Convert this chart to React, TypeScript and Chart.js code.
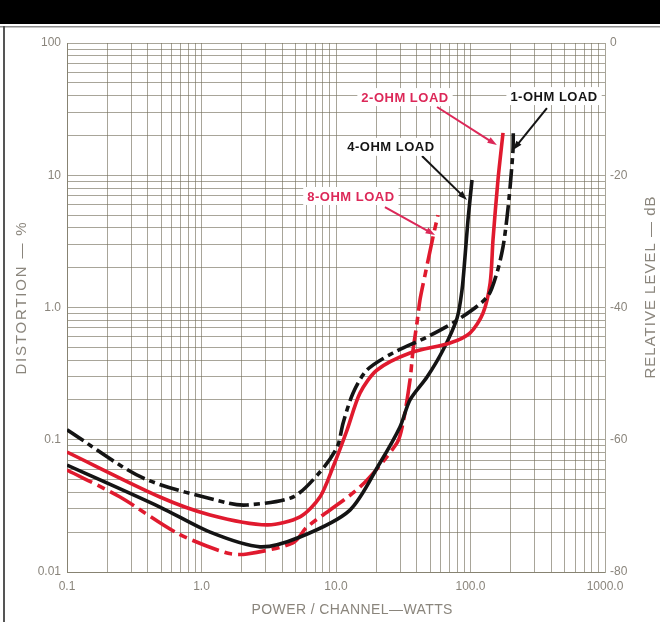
import React, { useEffect, useRef } from "react";
import { Chart, registerables } from "chart.js";

Chart.register(...registerables);

// ---------- axis data ----------
const xDecades = [0.1, 1, 10, 100, 1000];
const xTickLabels = ["0.1", "1.0", "10.0", "100.0", "1000.0"];
const yDecades = [0.01, 0.1, 1, 10, 100];
const yTickLabels = ["0.01", "0.1", "1.0", "10", "100"];
const dbTicks = [-80, -60, -40, -20, 0];
const dbTickLabels = ["-80", "-60", "-40", "-20", "0"];

const xTitle = "POWER / CHANNEL—WATTS";
const yTitle = "DISTORTION — %";
const y2Title = "RELATIVE LEVEL — dB";

// ---------- series data (power W, distortion %) ----------
const oneOhmPower = [0.1, 0.367, 1.55, 2.18, 4.79, 7.6, 10.2, 11.3, 13.4, 17.0, 26.5, 47.5, 79.4, 133, 157, 174.5, 187, 197, 207, 208];
const oneOhmDist = [0.119, 0.0514, 0.0333, 0.0321, 0.0369, 0.057, 0.088, 0.134, 0.226, 0.337, 0.453, 0.598, 0.8, 1.2, 1.82, 2.87, 4.83, 8.15, 15.5, 20.9];

const twoOhmPower = [0.1, 0.491, 1.16, 3.07, 5.4, 7.6, 9.5, 12.1, 15.1, 20.2, 35.5, 70.4, 99, 124, 140, 147, 160, 174.5];
const twoOhmDist = [0.0807, 0.0369, 0.027, 0.0227, 0.0261, 0.0369, 0.0622, 0.119, 0.226, 0.337, 0.453, 0.539, 0.641, 0.908, 1.53, 3.24, 9.2, 20.9];

const fourOhmPower = [0.1, 0.491, 1.16, 2.72, 5.4, 12.7, 21.2, 29.9, 35.5, 47.5, 62.5, 79.4, 86.5, 91, 95.8, 102.6];
const fourOhmDist = [0.0644, 0.031, 0.02, 0.0155, 0.0184, 0.0294, 0.0667, 0.125, 0.2, 0.298, 0.477, 0.83, 1.36, 2.41, 4.59, 9.2];

const eightOhmPower = [0.1, 0.248, 0.658, 1.55, 2.18, 4.79, 6.09, 15.1, 28.4, 31.5, 35.5, 37.4, 40, 42.1, 45.9, 52.6, 57.3];
const eightOhmDist = [0.059, 0.0369, 0.0197, 0.0139, 0.0137, 0.0166, 0.0219, 0.044, 0.0945, 0.134, 0.283, 0.477, 0.764, 1.14, 1.76, 3.41, 5.0];

// ---------- callouts (order: 1, 2, 4, 8 ohm) ----------
const seriesNames = ["1-OHM LOAD", "2-OHM LOAD", "4-OHM LOAD", "8-OHM LOAD"];
const labelPower = [418, 32.6, 25.6, 12.9];
const labelDist = [39.7, 39.0, 16.4, 6.97];
const arrowFromPower = [370, 56.4, 43.6, 23.1];
const arrowFromDist = [32.2, 32.8, 14.0, 5.75];
const arrowToPower = [207, 157, 94.2, 54.5];
const arrowToDist = [15.5, 16.9, 6.5, 3.53];

const RED = "#e01a2e";
const LABEL_RED = "#dc2858";
const BLACK = "#141414";
const GRID = "rgba(115,110,90,0.62)";
const AXIS_TEXT = "#8a857c";
const FONT = "'Liberation Sans', Arial, sans-serif";

const seriesColors = [BLACK, RED, BLACK, RED];
const labelColors = [BLACK, LABEL_RED, BLACK, LABEL_RED];
const seriesDash = [[20, 5, 6, 5], [], [], [28, 6, 8, 6]];

function zip(xs: number[], ys: number[]) {
  return xs.map((x, i) => ({ x, y: ys[i] }));
}

function logGrid(min: number, max: number) {
  const out: number[] = [];
  for (let e = Math.round(Math.log10(min)); e < Math.round(Math.log10(max)); e++) {
    for (let k = 1; k <= 9; k++) out.push(Number((k * Math.pow(10, e)).toPrecision(4)));
  }
  out.push(max);
  return out;
}

function decadeLabel(v: number, decades: number[], labels: string[]) {
  const i = decades.findIndex((d) => Math.abs(Math.log10(d) - Math.log10(v)) < 1e-6);
  return i >= 0 ? labels[i] : "";
}

function drawTitle(ctx: any, text: string, x: number, y: number, rot: number, size: number, spacing: number) {
  ctx.save();
  ctx.translate(x, y);
  ctx.rotate(rot);
  ctx.fillStyle = AXIS_TEXT;
  ctx.font = `${size}px ${FONT}`;
  ctx.letterSpacing = `${spacing}px`;
  ctx.textAlign = "center";
  ctx.textBaseline = "middle";
  ctx.fillText(text, spacing / 2, 0);
  ctx.restore();
}

const framePlugin = {
  id: "frame",
  beforeDraw(chart: any) {
    const { ctx, width, height } = chart;
    ctx.save();
    ctx.fillStyle = "#ffffff";
    ctx.fillRect(0, 0, width, height);
    ctx.fillStyle = "#000000";
    ctx.fillRect(0, 0, width, 24);
    ctx.fillStyle = "#8d8d8d";
    ctx.fillRect(0, 26, width, 1.5);
    ctx.fillStyle = "#555555";
    ctx.fillRect(3, 26, 2, height - 26);
    ctx.restore();
  },
  afterDraw(chart: any) {
    const { ctx, chartArea } = chart;
    const midY = (chartArea.top + chartArea.bottom) / 2;
    const midX = (chartArea.left + chartArea.right) / 2;
    drawTitle(ctx, xTitle, midX + 16, chartArea.bottom + 38, 0, 14, 0.4);
    drawTitle(ctx, yTitle, chartArea.left - 45, midY - 9, -Math.PI / 2, 15, 1.8);
    drawTitle(ctx, y2Title, chartArea.right + 46, midY - 20, -Math.PI / 2, 15, 1);
  },
};

const calloutPlugin = {
  id: "callouts",
  afterDatasetsDraw(chart: any) {
    const { ctx } = chart;
    const xs = chart.scales.x;
    const ys = chart.scales.y;
    ctx.save();
    for (let i = 0; i < seriesNames.length; i++) {
      const x0 = xs.getPixelForValue(arrowFromPower[i]);
      const y0 = ys.getPixelForValue(arrowFromDist[i]);
      const x1 = xs.getPixelForValue(arrowToPower[i]);
      const y1 = ys.getPixelForValue(arrowToDist[i]);
      const ang = Math.atan2(y1 - y0, x1 - x0);
      const head = 10;
      ctx.strokeStyle = labelColors[i];
      ctx.fillStyle = labelColors[i];
      ctx.lineWidth = 2;
      ctx.beginPath();
      ctx.moveTo(x0, y0);
      ctx.lineTo(x1 - Math.cos(ang) * head * 0.8, y1 - Math.sin(ang) * head * 0.8);
      ctx.stroke();
      ctx.beginPath();
      ctx.moveTo(x1, y1);
      ctx.lineTo(x1 - head * Math.cos(ang - 0.33), y1 - head * Math.sin(ang - 0.33));
      ctx.lineTo(x1 - head * Math.cos(ang + 0.33), y1 - head * Math.sin(ang + 0.33));
      ctx.closePath();
      ctx.fill();

      const tx = xs.getPixelForValue(labelPower[i]);
      const ty = ys.getPixelForValue(labelDist[i]);
      ctx.font = `bold 13px ${FONT}`;
      (ctx as any).letterSpacing = "0.5px";
      const w = ctx.measureText(seriesNames[i]).width;
      ctx.fillStyle = "#ffffff";
      ctx.fillRect(tx - w / 2 - 4, ty - 9, w + 8, 18);
      ctx.fillStyle = labelColors[i];
      ctx.textAlign = "center";
      ctx.textBaseline = "middle";
      ctx.fillText(seriesNames[i], tx, ty + 1);
      (ctx as any).letterSpacing = "0px";
    }
    ctx.restore();
  },
};

export default function App() {
  const ref = useRef<HTMLCanvasElement | null>(null);

  useEffect(() => {
    if (!ref.current) return;
    const powers = [oneOhmPower, twoOhmPower, fourOhmPower, eightOhmPower];
    const dists = [oneOhmDist, twoOhmDist, fourOhmDist, eightOhmDist];
    const chart = new Chart(ref.current, {
      type: "line",
      data: {
        datasets: seriesNames.map((name, i) => ({
          label: name,
          data: zip(powers[i], dists[i]),
          borderColor: seriesColors[i],
          borderWidth: 3.6,
          borderDash: seriesDash[i],
          pointRadius: 0,
          tension: 0.28,
          fill: false,
          yAxisID: "y",
        })),
      },
      options: {
        responsive: false,
        animation: false,
        events: [],
        layout: { padding: { top: 43, left: 0, right: 0, bottom: 0 } },
        plugins: { legend: { display: false }, tooltip: { enabled: false } },
        scales: {
          x: {
            type: "logarithmic",
            position: "bottom",
            min: 0.1,
            max: 1000,
            afterBuildTicks: (s: any) => {
              s.ticks = logGrid(0.1, 1000).map((v) => ({ value: v }));
            },
            afterFit: (s: any) => {
              s.height = 50;
            },
            grid: { color: GRID, lineWidth: 1, drawTicks: false },
            border: { display: true, color: GRID },
            ticks: {
              autoSkip: false,
              maxRotation: 0,
              minRotation: 0,
              padding: 7,
              color: AXIS_TEXT,
              font: { family: FONT, size: 12 },
              callback: (v: any) => decadeLabel(Number(v), xDecades, xTickLabels),
            },
          },
          y: {
            type: "logarithmic",
            position: "left",
            min: 0.01,
            max: 100,
            afterBuildTicks: (s: any) => {
              s.ticks = logGrid(0.01, 100).map((v) => ({ value: v }));
            },
            afterFit: (s: any) => {
              s.width = 67;
            },
            grid: { color: GRID, lineWidth: 1, drawTicks: false },
            border: { display: true, color: GRID },
            ticks: {
              autoSkip: false,
              padding: 6,
              color: AXIS_TEXT,
              font: { family: FONT, size: 12 },
              callback: (v: any) => decadeLabel(Number(v), yDecades, yTickLabels),
            },
          },
          y2: {
            type: "linear",
            position: "right",
            min: -80,
            max: 0,
            afterBuildTicks: (s: any) => {
              s.ticks = dbTicks.map((v) => ({ value: v }));
            },
            afterFit: (s: any) => {
              s.width = 55;
            },
            grid: { display: false, drawTicks: false },
            border: { display: false },
            ticks: {
              padding: 5,
              color: AXIS_TEXT,
              font: { family: FONT, size: 12 },
              callback: (v: any) => {
                const i = dbTicks.indexOf(Number(v));
                return i >= 0 ? dbTickLabels[i] : "";
              },
            },
          },
        },
      },
      plugins: [framePlugin, calloutPlugin],
    } as any);
    return () => chart.destroy();
  }, []);

  return (
    <div style={{ position: "fixed", left: 0, top: 0, width: 660, height: 622, background: "#fff" }}>
      <canvas ref={ref} width={660} height={622} style={{ width: 660, height: 622, display: "block" }} />
    </div>
  );
}
